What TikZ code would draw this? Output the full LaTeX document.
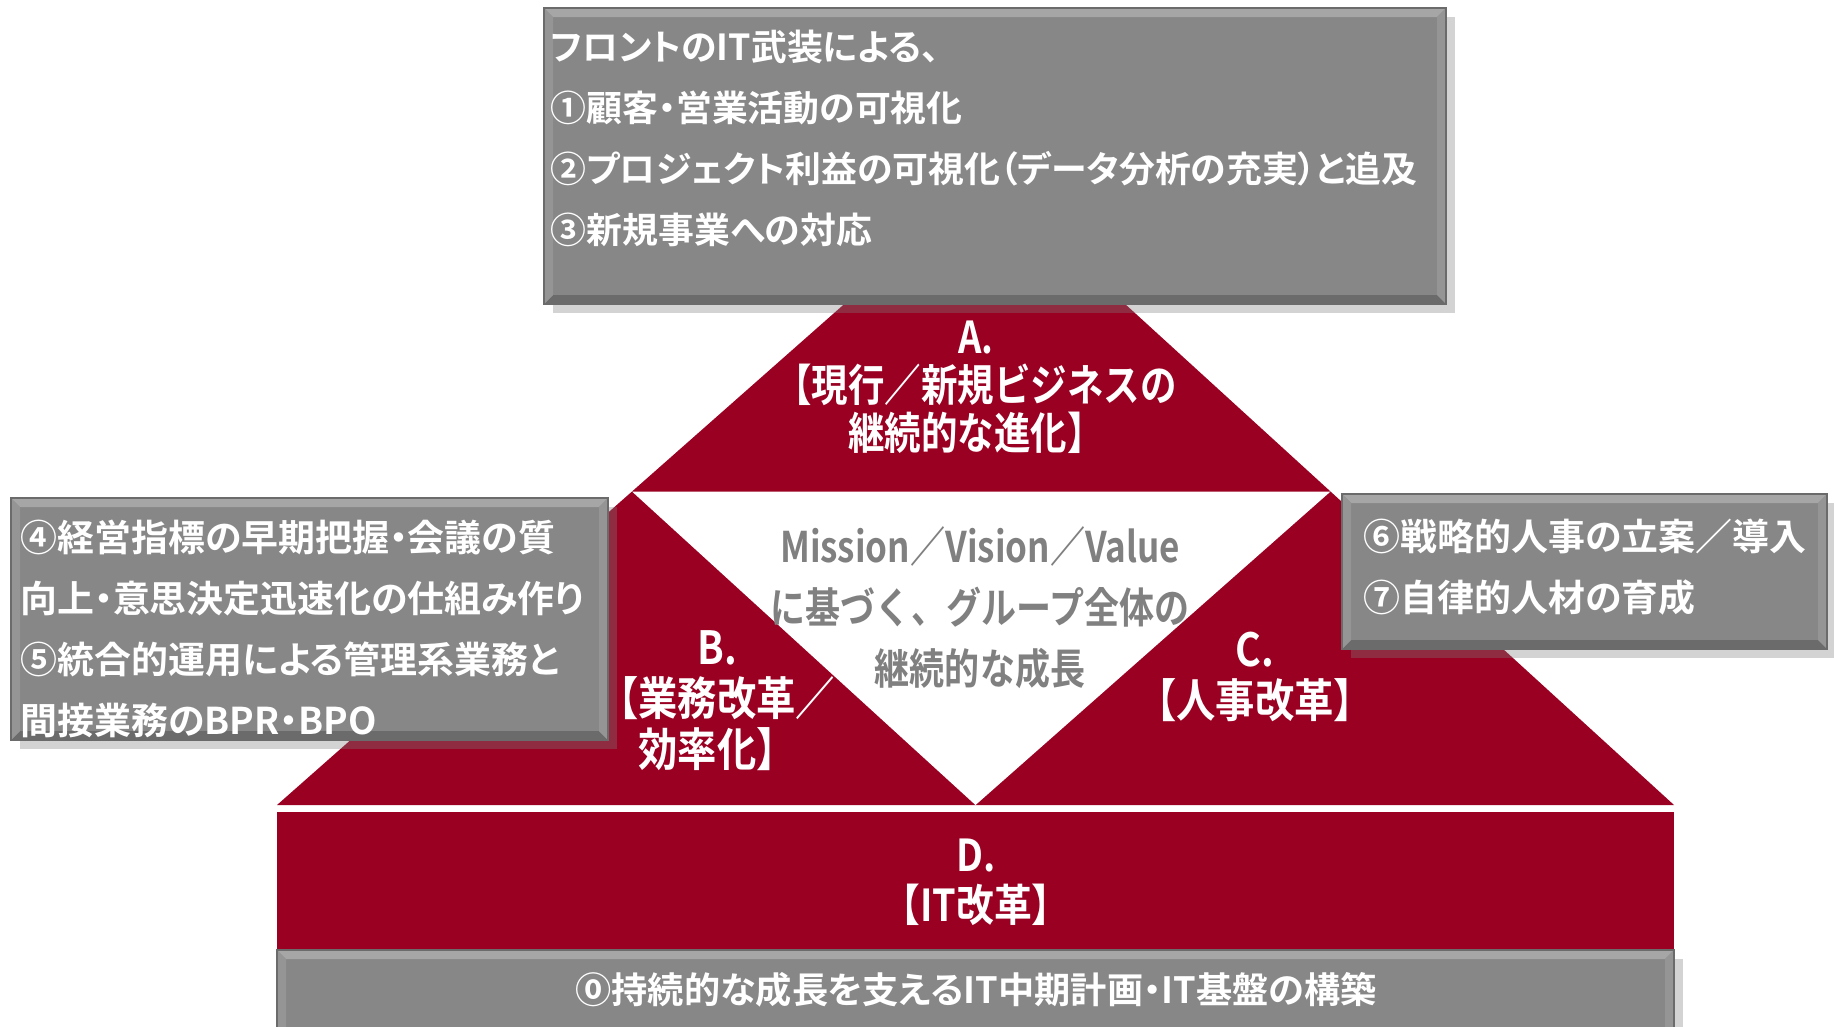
\documentclass[tikz,border=0pt]{standalone}
\usepackage{fontspec}
\newfontfamily\jpfont{Noto Sans CJK JP Bold}[RawFeature=+palt]
\newfontfamily\jpnarrow{Noto Sans CJK JP Bold}[FakeStretch=0.83]
\newfontfamily\jpcond{Noto Sans CJK JP Bold}[FakeStretch=0.86]
\usetikzlibrary{calc}
\usetikzlibrary{shadows}
\definecolor{pyrred}{HTML}{990022}
\definecolor{boardgray}{HTML}{878787}
\definecolor{boardlight}{HTML}{A6A6A6}
\definecolor{boardside}{HTML}{959595}
\definecolor{boarddark}{HTML}{6B6B6B}
\definecolor{coregray}{HTML}{808080}

\begin{document}
\begin{tikzpicture}[x=0.01cm,y=-0.01cm,
    board/.style={fill=boardgray,drop shadow={shadow xshift=2.5pt,shadow yshift=-2.5pt,opacity=0.35}},
    boardtext/.style={anchor=west,align=left,inner sep=0pt,text=white,font=\jpfont\fontsize{10.5pt}{17.4pt}\selectfont},
    pyrtext/.style={align=center,inner sep=0pt,text=white,font=\jpcond\fontsize{13pt}{14.5pt}\selectfont},
    coretext/.style={align=center,inner sep=0pt,text=coregray,font=\jpnarrow\fontsize{12pt}{17.4pt}\selectfont}]
        \newcommand{\pyrbasey}{805}
        \newcommand{\pyrleftx}{277}
        \newcommand{\pyrrightx}{1674}
        \newcommand{\pyrapexx}{987}
        \newcommand{\pyrapexy}{178}
        \newcommand{\itbandtop}{812}
        \newcommand{\itbandbot}{950}
        \newcommand{\boardbevel}[4]{%
            \fill[boardlight] (#1,#2) -- (#3,#2) -- (#3-9,#2+9) -- (#1+9,#2+9) -- cycle;
            \fill[boarddark] (#1,#4) -- (#3,#4) -- (#3-9,#4-9) -- (#1+9,#4-9) -- cycle;
            \fill[boardside] (#1,#2) -- (#1+9,#2+9) -- (#1+9,#4-9) -- (#1,#4) -- cycle;
            \fill[boardside] (#3,#2) -- (#3-9,#2+9) -- (#3-9,#4-9) -- (#3,#4) -- cycle;
            \draw[boarddark,line width=0.5pt] (#1,#2) rectangle (#3,#4);}
        \useasboundingbox (0,0) rectangle (1834,1026);
        \coordinate (apex) at (\pyrapexx,\pyrapexy);
        \coordinate (baseleft) at (\pyrleftx,\pyrbasey);
        \coordinate (baseright) at (\pyrrightx,\pyrbasey);
        \coordinate (midleft) at ($(apex)!0.5!(baseleft)$);
        \coordinate (midright) at ($(apex)!0.5!(baseright)$);
        \coordinate (midbase) at ($(baseleft)!0.5!(baseright)$);
        \fill[pyrred] (apex) -- (baseleft) -- (baseright) -- cycle;
        \fill[white] (midleft) -- (midright) -- (midbase) -- cycle;
        \fill[pyrred] (\pyrleftx,\itbandtop) rectangle (\pyrrightx,\itbandbot);
        \fill[board] (\pyrleftx,\itbandbot) rectangle (\pyrrightx,1040);
        \boardbevel{\pyrleftx}{\itbandbot}{\pyrrightx}{1040}
        \fill[board] (544,8) rectangle (1446,304);
        \boardbevel{544}{8}{1446}{304}
        \fill[board] (11,498) rectangle (608,740);
        \boardbevel{11}{498}{608}{740}
        \fill[board] (1342,494) rectangle (1827,649);
        \boardbevel{1342}{494}{1827}{649}
        \node[boardtext,font=\jpfont\fontsize{10.2pt}{17.4pt}\selectfont] (frontlist) at (550,138.5) {フロントのIT武装による、\\①顧客・営業活動の可視化\\②プロジェクト利益の可視化（データ分析の充実）と追及\\③新規事業への対応};
        \node[boardtext] (mgmtlist) at (20,629) {④経営指標の早期把握・会議の質\\向上・意思決定迅速化の仕組み作り\\⑤統合的運用による管理系業務と\\間接業務のBPR・BPO};
        \node[boardtext] (hrlist) at (1363,567.5) {⑥戦略的人事の立案／導入\\⑦自律的人材の育成};
        \node[pyrtext,font=\jpnarrow\fontsize{12.5pt}{13.7pt}\selectfont] (labela) at (976,387) {A.\\【現行／新規ビジネスの\\継続的な進化】};
        \node[pyrtext] (labelb) at (717,701) {B.\\【業務改革／\\効率化】};
        \node[pyrtext] (labelc) at (1255,677) {C.\\【人事改革】};
        \node[coretext] (core) at (980,607.5) {Mission／Vision／Value\\に基づく、グループ全体の\\継続的な成長};
        \node[pyrtext,font=\jpcond\fontsize{12.5pt}{14.3pt}\selectfont] (labeld) at (976,882.5) {D.\\【IT改革】};
        \node[boardtext,anchor=center,font=\jpfont\fontsize{10.3pt}{12pt}\selectfont] (itbase) at (976,990) {⓪持続的な成長を支えるIT中期計画・IT基盤の構築};
\end{tikzpicture}
\end{document}
